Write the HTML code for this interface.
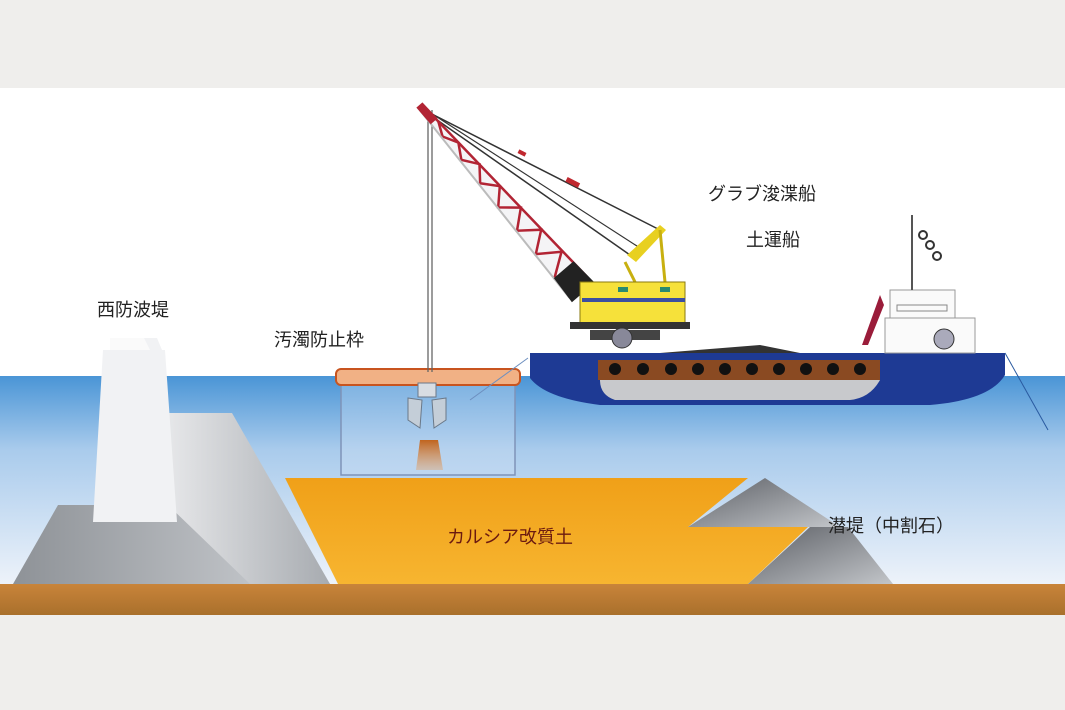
<!DOCTYPE html>
<html><head><meta charset="utf-8"><style>
html,body{margin:0;padding:0;width:1065px;height:710px;overflow:hidden;background:#efeeec}
svg{display:block}
text{font-family:"Liberation Sans","Noto Sans CJK JP",sans-serif}
</style></head><body>
<svg width="1065" height="710" viewBox="0 0 1065 710" xmlns="http://www.w3.org/2000/svg">
<defs>
<linearGradient id="sea" x1="0" y1="0" x2="0" y2="1">
<stop offset="0" stop-color="#4a95d6"/><stop offset="0.35" stop-color="#a9cbec"/><stop offset="1" stop-color="#eef3fa"/></linearGradient>
<linearGradient id="bed" x1="0" y1="0" x2="0" y2="1">
<stop offset="0" stop-color="#c9843a"/><stop offset="1" stop-color="#a9702c"/></linearGradient>
<linearGradient id="orange" x1="0" y1="0" x2="0" y2="1">
<stop offset="0" stop-color="#f0a018"/><stop offset="1" stop-color="#f7b530"/></linearGradient>
<linearGradient id="gray1" x1="0" y1="0" x2="1" y2="0">
<stop offset="0" stop-color="#8e9297"/><stop offset="1" stop-color="#c9ccd0"/></linearGradient>
<linearGradient id="gray2" x1="0" y1="0" x2="1" y2="0">
<stop offset="0" stop-color="#e6e7e9"/><stop offset="1" stop-color="#a7abb0"/></linearGradient>
<linearGradient id="mound" x1="0" y1="0" x2="1" y2="1">
<stop offset="0" stop-color="#5d6066"/><stop offset="1" stop-color="#c2c5c9"/></linearGradient>
<linearGradient id="mud" x1="0" y1="0" x2="0" y2="1">
<stop offset="0" stop-color="#c0641e"/><stop offset="1" stop-color="#e8a060" stop-opacity="0.4"/></linearGradient>
</defs>
<rect width="1065" height="710" fill="#efeeec"/>
<rect x="0" y="88" width="1065" height="527" fill="#fff"/>
<rect x="0" y="376" width="1065" height="210" fill="url(#sea)"/>
<rect x="0" y="584" width="1065" height="31" fill="url(#bed)"/>
<!-- breakwater -->
<polygon points="13,584 58,505 230,505 300,584" fill="url(#gray1)"/>
<polygon points="168,413 232,413 330,584 250,584 168,505" fill="url(#gray2)"/>
<polygon points="110,338 157,338 162,350 165,350 177,522 93,522 103,350 110,350" fill="#f1f2f4"/>
<polygon points="110,338 144,338 150,350 110,350" fill="#fafafa"/>
<!-- orange fill -->
<polygon points="285,478 748,478 688,527 808,527 748,584 338,584" fill="url(#orange)"/>
<!-- mounds -->
<polygon points="688,527 765,478 840,527" fill="url(#mound)"/>
<polygon points="748,584 810,527 848,527 893,584" fill="url(#mound)"/>
<!-- silt frame -->
<rect x="341" y="384" width="174" height="91" fill="#cfe0f3" fill-opacity="0.35" stroke="#7f93b8" stroke-width="1.5"/>
<rect x="336" y="369" width="184" height="16" rx="5" fill="#f1b185" stroke="#c8541f" stroke-width="2"/>
<line x1="470" y1="400" x2="528" y2="358" stroke="#6d8fbf" stroke-width="1"/>
<!-- grab -->
<polygon points="420,440 438,440 443,470 416,470" fill="url(#mud)"/>
<path d="M408,398 L422,400 L420,428 L408,420 Z" fill="#c4ced8" stroke="#6a7888" stroke-width="1"/>
<path d="M446,398 L432,400 L434,428 L446,420 Z" fill="#c4ced8" stroke="#6a7888" stroke-width="1"/>
<rect x="418" y="383" width="18" height="14" fill="#d8dde3" stroke="#6a7888"/>
<!-- wires -->
<line x1="428" y1="110" x2="428" y2="372" stroke="#666" stroke-width="1.3"/>
<line x1="432" y1="110" x2="432" y2="372" stroke="#666" stroke-width="1.3"/>
<line x1="420" y1="108" x2="660" y2="230" stroke="#333" stroke-width="1.5"/>
<line x1="420" y1="108" x2="630" y2="255" stroke="#333" stroke-width="1.5"/>
<line x1="420" y1="106" x2="640" y2="248" stroke="#333" stroke-width="1.2"/>
<rect x="566" y="180" width="14" height="5" fill="#c0282f" transform="rotate(27 573 182)"/>
<rect x="518" y="151" width="8" height="4" fill="#c0282f" transform="rotate(27 522 153)"/>
<!-- boom -->
<g transform="translate(422,108) rotate(49.3)">
<polygon points="0,-3 240,-16 240,12 0,3" fill="#f4f4f6" stroke="#9a9a9e" stroke-width="1"/>
<path d="M20,-4 L35,3 L50,-5 L65,4 L80,-7 L95,5 L110,-8 L125,7 L140,-10 L155,8 L170,-11 L185,9 L200,-12 L215,10 L228,-13" fill="none" stroke="#b22434" stroke-width="2.5"/>
<line x1="10" y1="-3" x2="235" y2="-15" stroke="#b22434" stroke-width="2.5"/>
<line x1="0" y1="3" x2="240" y2="12" stroke="#bbb" stroke-width="2"/>
<polygon points="-4,-4 18,-5 18,4 -4,4" fill="#b22434"/>
<polygon points="215,-15 245,-17 245,13 215,11" fill="#222"/>
</g>
<!-- crane cab -->
<polygon points="627,255 660,225 666,230 636,262" fill="#e8d020"/>
<line x1="625" y1="262" x2="635" y2="282" stroke="#c8b010" stroke-width="3"/>
<line x1="660" y1="230" x2="665" y2="282" stroke="#c8b010" stroke-width="3"/>
<rect x="580" y="282" width="105" height="42" fill="#f6e13a" stroke="#8a7a10"/>
<rect x="582" y="298" width="103" height="4" fill="#3b4ea0"/>
<rect x="618" y="287" width="10" height="5" fill="#2a8a70"/><rect x="660" y="287" width="10" height="5" fill="#2a8a70"/>
<rect x="570" y="322" width="120" height="7" fill="#333"/>
<rect x="590" y="330" width="70" height="10" fill="#444"/>
<circle cx="622" cy="338" r="10" fill="#889" stroke="#333"/>
<!-- ship hull -->
<path d="M530,353 L1005,353 L1005,375 Q990,400 930,405 L600,405 Q545,398 530,378 Z" fill="#1e3a94"/>
<rect x="598" y="360" width="282" height="20" fill="#8a4a22"/>
<path d="M600,380 L880,380 Q870,398 850,400 L615,400 Q600,395 600,380 Z" fill="#c8c9cc"/>
<g fill="#111"><circle cx="615" cy="369" r="6"/><circle cx="643" cy="369" r="6"/><circle cx="671" cy="369" r="6"/><circle cx="698" cy="369" r="6"/><circle cx="725" cy="369" r="6"/><circle cx="752" cy="369" r="6"/><circle cx="779" cy="369" r="6"/><circle cx="806" cy="369" r="6"/><circle cx="833" cy="369" r="6"/><circle cx="860" cy="369" r="6"/></g>
<polygon points="660,353 760,345 800,353" fill="#333"/>
<!-- cabin -->
<rect x="885" y="318" width="90" height="35" fill="#fafafa" stroke="#999"/>
<rect x="890" y="290" width="65" height="28" fill="#fafafa" stroke="#999"/>
<rect x="897" y="305" width="50" height="6" fill="none" stroke="#888"/>
<line x1="912" y1="215" x2="912" y2="290" stroke="#555" stroke-width="2"/>
<circle cx="923" cy="235" r="4" fill="none" stroke="#333" stroke-width="2"/>
<circle cx="930" cy="245" r="4" fill="none" stroke="#333" stroke-width="2"/>
<circle cx="937" cy="256" r="4" fill="none" stroke="#333" stroke-width="2"/>
<polygon points="862,345 880,295 884,305 868,345" fill="#9a1c3a"/>
<circle cx="944" cy="339" r="10" fill="#aab" stroke="#333"/>
<line x1="1005" y1="353" x2="1048" y2="430" stroke="#2a5aa0" stroke-width="1"/>
<!-- labels -->
<text x="97" y="316" font-size="18" fill="#222">西防波堤</text>
<text x="274" y="346" font-size="18" fill="#222">汚濁防止枠</text>
<text x="708" y="200" font-size="18" fill="#222">グラブ浚渫船</text>
<text x="746" y="246" font-size="18" fill="#222">土運船</text>
<text x="447" y="543" font-size="18" fill="#6b1a10">カルシア改質土</text>
<text x="828" y="532" font-size="18" fill="#222">潜堤（中割石）</text>
</svg>
</body></html>
